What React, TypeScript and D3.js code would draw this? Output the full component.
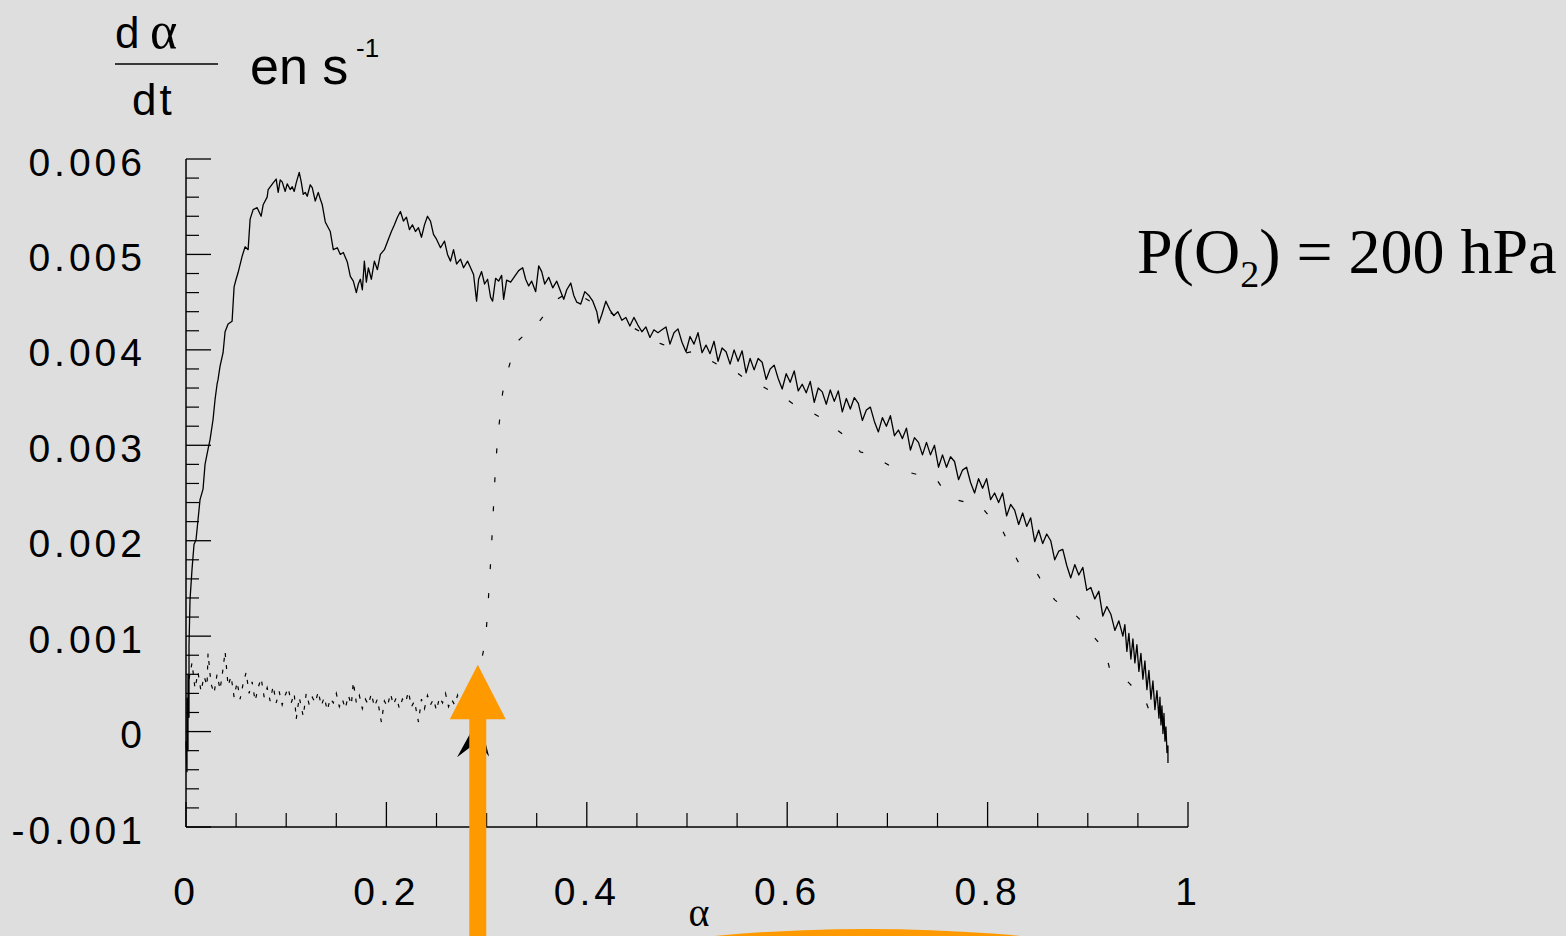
import React from "react";
import * as d3 from "d3";

const W = 1566;
const H = 936;

// x: conversion degree alpha ; y: d(alpha)/dt in units of 1e-3 s^-1
const xTickValues = [0, 0.2, 0.4, 0.6, 0.8, 1];
const xTickLabels = ["0", "0.2", "0.4", "0.6", "0.8", "1"];
const yTickValues = [-1, 0, 1, 2, 3, 4, 5, 6];
const yTickLabels = ["-0.001", "0", "0.001", "0.002", "0.003", "0.004", "0.005", "0.006"];

const solidCurve: [number, number][] = [
  [0.000,-0.10],[0.001,-0.42],[0.001,0.35],[0.002,-0.20],[0.002,0.60],[0.003,0.15],[0.003,0.90],[0.004,1.38],
  [0.006,1.70],[0.008,1.96],[0.010,2.01],[0.012,2.22],[0.014,2.43],[0.017,2.54],[0.019,2.80],[0.022,2.96],
  [0.024,3.06],[0.027,3.27],[0.029,3.48],[0.031,3.64],[0.032,3.69],[0.034,3.83],[0.037,3.97],[0.039,4.19],
  [0.042,4.27],[0.046,4.30],[0.048,4.66],[0.050,4.74],[0.052,4.81],[0.056,4.98],[0.059,5.08],[0.062,5.05],
  [0.064,5.37],[0.067,5.47],[0.071,5.49],[0.075,5.40],[0.077,5.52],[0.081,5.60],[0.082,5.68],[0.087,5.75],
  [0.090,5.79],[0.092,5.65],[0.094,5.78],[0.096,5.76],[0.099,5.66],[0.101,5.74],[0.104,5.68],[0.106,5.71],
  [0.108,5.66],[0.110,5.75],[0.113,5.86],[0.115,5.76],[0.117,5.63],[0.119,5.65],[0.121,5.61],[0.124,5.73],
  [0.126,5.70],[0.129,5.56],[0.132,5.65],[0.134,5.58],[0.136,5.52],[0.139,5.34],[0.142,5.28],[0.144,5.24],
  [0.147,5.05],[0.151,5.07],[0.154,5.00],[0.157,5.02],[0.161,4.92],[0.164,4.77],[0.167,4.72],[0.170,4.60],
  [0.172,4.69],[0.174,4.74],[0.176,4.63],[0.178,4.93],[0.180,4.71],[0.182,4.86],[0.185,4.74],[0.188,4.93],
  [0.191,4.84],[0.194,5.00],[0.198,5.05],[0.202,5.16],[0.205,5.24],[0.208,5.31],[0.211,5.39],[0.214,5.45],
  [0.217,5.35],[0.220,5.39],[0.223,5.26],[0.226,5.31],[0.229,5.24],[0.232,5.28],[0.235,5.18],[0.238,5.31],
  [0.241,5.40],[0.244,5.35],[0.247,5.21],[0.250,5.16],[0.254,5.07],[0.258,5.14],[0.261,5.00],[0.264,4.93],
  [0.267,5.05],[0.270,4.90],[0.274,4.95],[0.277,4.86],[0.281,4.93],[0.284,4.86],[0.287,4.79],[0.290,4.51],
  [0.292,4.74],[0.295,4.82],[0.298,4.69],[0.301,4.74],[0.304,4.55],[0.306,4.51],[0.309,4.75],[0.312,4.72],
  [0.315,4.78],[0.317,4.53],[0.320,4.73],[0.324,4.71],[0.328,4.77],[0.332,4.83],[0.336,4.86],[0.339,4.74],
  [0.342,4.67],[0.345,4.72],[0.349,4.61],[0.352,4.88],[0.355,4.82],[0.358,4.69],[0.362,4.76],[0.366,4.65],
  [0.370,4.72],[0.374,4.61],[0.377,4.53],[0.380,4.63],[0.384,4.70],[0.387,4.57],[0.390,4.50],[0.394,4.48],
  [0.398,4.61],[0.402,4.57],[0.406,4.51],[0.410,4.40],[0.412,4.28],[0.415,4.37],[0.419,4.51],[0.423,4.42],
  [0.427,4.36],[0.431,4.40],[0.435,4.31],[0.439,4.34],[0.443,4.25],[0.447,4.34],[0.451,4.26],[0.455,4.19],
  [0.459,4.24],[0.463,4.13],[0.467,4.21],[0.471,4.18],[0.475,4.21],
  [0.479,4.24],[0.483,4.06],[0.487,4.18],[0.491,4.22],[0.495,4.08],[0.499,3.98],[0.503,4.14],[0.507,4.06],
  [0.511,4.18],[0.515,3.97],[0.519,4.05],[0.523,3.96],[0.527,4.09],[0.531,3.88],[0.535,4.02],[0.539,3.98],
  [0.543,3.85],[0.547,4.00],[0.551,3.88],[0.555,3.99],[0.559,3.76],[0.563,3.91],[0.567,3.79],[0.571,3.91],
  [0.575,3.87],[0.579,3.69],[0.583,3.80],[0.587,3.84],[0.591,3.70],[0.595,3.59],[0.599,3.75],[0.603,3.66],
  [0.607,3.78],[0.611,3.57],[0.615,3.64],[0.619,3.55],[0.623,3.67],[0.627,3.45],[0.631,3.60],[0.635,3.56],
  [0.639,3.43],[0.643,3.58],[0.647,3.46],[0.651,3.57],[0.655,3.35],[0.659,3.49],[0.663,3.38],[0.667,3.50],
  [0.671,3.44],[0.675,3.26],[0.679,3.37],[0.683,3.40],[0.687,3.25],[0.691,3.14],[0.695,3.29],[0.699,3.20],
  [0.703,3.31],[0.707,3.10],[0.711,3.16],[0.715,3.07],[0.719,3.18],[0.723,2.95],[0.727,3.08],[0.731,3.03],
  [0.735,2.90],[0.739,3.03],[0.743,2.90],[0.747,3.00],[0.751,2.77],[0.755,2.90],[0.759,2.77],[0.763,2.88],
  [0.767,2.83],[0.771,2.64],[0.775,2.74],[0.779,2.77],[0.783,2.61],[0.787,2.50],[0.791,2.65],[0.795,2.55],
  [0.799,2.65],[0.803,2.43],[0.807,2.50],[0.811,2.40],[0.815,2.50],[0.819,2.26],[0.823,2.38],[0.827,2.32],
  [0.831,2.17],[0.835,2.29],[0.839,2.15],[0.843,2.24],[0.847,1.99],[0.851,2.11],[0.855,1.97],[0.859,2.07],
  [0.863,2.00],[0.867,1.80],[0.871,1.89],[0.875,1.91],[0.879,1.74],[0.883,1.61],[0.887,1.75],[0.891,1.64],
  [0.895,1.72],[0.899,1.48],[0.903,1.51],[0.907,1.39],[0.911,1.47],[0.915,1.21],[0.919,1.31],[0.923,1.23],
  [0.927,1.06],[0.931,1.16],[0.935,1.00],[0.937,1.12],[0.939,0.84],[0.941,1.03],[0.943,0.76],[0.945,0.97],
  [0.947,0.72],[0.949,0.91],[0.951,0.63],[0.953,0.82],[0.955,0.55],[0.957,0.74],[0.959,0.44],[0.961,0.64],
  [0.963,0.34],[0.965,0.53],[0.967,0.23],[0.969,0.43],[0.971,0.14],[0.972,0.36],[0.973,0.07],[0.974,0.27],
  [0.975,-0.02],[0.976,0.19],[0.977,-0.10],[0.978,0.05],[0.979,-0.22],[0.980,-0.15],[0.980,-0.33],
];

const dottedCurve: [number, number][] = [
  [0.003,0.55],[0.006,0.72],[0.009,0.45],[0.012,0.62],[0.015,0.42],[0.018,0.58],[0.021,0.48],[0.022,0.82],
  [0.025,0.50],[0.028,0.40],[0.031,0.60],[0.034,0.44],[0.037,0.66],[0.039,0.84],[0.042,0.48],[0.045,0.58],
  [0.048,0.36],[0.051,0.52],[0.054,0.34],[0.057,0.50],[0.060,0.62],[0.063,0.40],[0.066,0.52],[0.069,0.32],
  [0.072,0.46],[0.075,0.56],[0.078,0.36],[0.081,0.46],[0.084,0.32],[0.087,0.48],[0.090,0.30],[0.093,0.42],
  [0.096,0.28],[0.099,0.38],[0.102,0.46],[0.105,0.30],[0.108,0.40],[0.110,0.13],[0.113,0.36],[0.117,0.16],
  [0.120,0.40],[0.123,0.28],[0.126,0.36],[0.129,0.30],[0.132,0.42],[0.135,0.27],[0.138,0.36],[0.141,0.22],
  [0.144,0.35],[0.147,0.30],[0.150,0.40],[0.153,0.26],[0.156,0.34],[0.159,0.24],[0.162,0.38],[0.165,0.28],
  [0.167,0.52],[0.170,0.30],[0.173,0.38],[0.176,0.24],[0.179,0.34],[0.182,0.28],[0.185,0.40],[0.188,0.26],
  [0.191,0.34],[0.195,0.10],[0.198,0.32],[0.201,0.26],[0.204,0.40],[0.207,0.28],[0.210,0.36],[0.213,0.24],
  [0.216,0.34],[0.219,0.30],[0.222,0.42],[0.225,0.26],[0.228,0.32],[0.232,0.10],[0.235,0.34],[0.238,0.24],
  [0.241,0.38],[0.244,0.28],[0.247,0.34],[0.250,0.22],[0.253,0.36],[0.256,0.30],[0.259,0.40],[0.262,0.26],
  [0.265,0.34],[0.268,0.28],[0.271,0.38],[0.274,0.24],[0.277,0.34],[0.280,0.30],[0.283,0.42],[0.286,0.36],
  [0.289,0.50],[0.292,0.62],
  [0.295,0.75],[0.299,0.96],[0.301,1.26],[0.303,1.59],[0.305,1.96],[0.307,2.38],[0.309,2.80],[0.311,3.06],
  [0.313,3.27],[0.316,3.55],[0.320,3.74],[0.325,3.92],[0.331,4.09],[0.338,4.16],[0.346,4.21],[0.358,4.37],
  [0.366,4.50],[0.375,4.56],[0.385,4.58],[0.395,4.56],[0.405,4.50],[0.415,4.44],[0.425,4.38],[0.435,4.30],
  [0.445,4.24],[0.455,4.18],[0.465,4.10],[0.475,4.06],[0.485,4.02],[0.495,3.96],[0.505,3.98],[0.515,3.90],
  [0.525,3.88],[0.535,3.82],[0.545,3.80],[0.555,3.72],[0.565,3.68],[0.575,3.62],[0.585,3.56],[0.595,3.52],
  [0.605,3.44],[0.615,3.40],[0.625,3.34],[0.635,3.28],[0.645,3.20],[0.655,3.12],[0.665,3.04],[0.673,2.93],
  [0.685,2.90],[0.697,2.82],[0.708,2.75],[0.720,2.72],[0.735,2.68],[0.748,2.66],[0.758,2.50],[0.768,2.43],
  [0.780,2.40],[0.792,2.38],[0.802,2.25],[0.812,2.17],[0.822,1.95],[0.832,1.75],[0.840,1.72],[0.847,1.70],
  [0.857,1.52],[0.867,1.38],[0.877,1.30],[0.887,1.23],[0.897,1.12],[0.907,0.98],[0.917,0.86],[0.922,0.65],
  [0.929,0.62],[0.937,0.55],[0.942,0.50],[0.947,0.44],[0.952,0.40],[0.957,0.34],[0.962,0.20],
];

const SANS = "'Liberation Sans', Arial, Helvetica, sans-serif";
const SERIF = "'Liberation Serif', 'Times New Roman', Times, serif";
const ORANGE = "#ff9900";

export default function App() {
  const x = d3.scaleLinear().domain([0, 1]).range([186, 1188]);
  const y = d3.scaleLinear().domain([-1, 6]).range([827, 159]);
  const line = d3.line<[number, number]>().x((d) => x(d[0])).y((d) => y(d[1]));

  const xMinor = d3.range(0, 20).map((i) => i * 0.05).filter((v, i) => i % 4 !== 0);
  const yMinor = d3.range(0, 36).map((i) => -1 + i * 0.2).filter((v, i) => i % 5 !== 0);

  const dotFlat = dottedCurve.filter((d) => d[0] <= 0.293);
  const dotRest = dottedCurve.filter((d) => d[0] >= 0.289);

  // annotation anchors in data coordinates
  const arrowX = x(0.2912);
  const tipY = y(0.7);
  const baseY = y(0.13);
  const headHalf = 28;
  const shaftHalf = 8.5;

  const blackArrow = [
    [x(0.2925), y(0.15)],
    [x(0.2705), y(-0.27)],
    [x(0.2905), y(-0.11)],
    [x(0.3025), y(-0.26)],
  ];

  const crescentCx = x(0.68);

  return (
    <div style={{ position: "fixed", left: 0, top: 0, width: W, height: H, background: "#dedede", overflow: "hidden" }}>
      <svg width={W} height={H} style={{ display: "block" }}>
        <rect x={0} y={0} width={W} height={H} fill="#dedede" />

        {/* axes */}
        <line x1={x(0)} x2={x(0)} y1={y(6)} y2={y(-1)} stroke="#000" strokeWidth={1.5} />
        <line x1={x(0)} x2={x(1)} y1={y(-1)} y2={y(-1)} stroke="#000" strokeWidth={1.5} />

        {yTickValues.map((v) => (
          <line key={"ym" + v} x1={x(0)} x2={x(0) + 25} y1={y(v)} y2={y(v)} stroke="#000" strokeWidth={1.3} />
        ))}
        {yMinor.map((v, i) => (
          <line key={"yn" + i} x1={x(0)} x2={x(0) + 13} y1={y(v)} y2={y(v)} stroke="#000" strokeWidth={1.2} />
        ))}
        {xTickValues.map((v) => (
          <line key={"xm" + v} x1={x(v)} x2={x(v)} y1={y(-1)} y2={y(-1) - 25} stroke="#000" strokeWidth={1.3} />
        ))}
        {xMinor.map((v, i) => (
          <line key={"xn" + i} x1={x(v)} x2={x(v)} y1={y(-1)} y2={y(-1) - 14} stroke="#000" strokeWidth={1.2} />
        ))}

        {yTickValues.map((v, i) => (
          <text key={"yl" + v} x={146} y={y(v) + 3} dominantBaseline="central" textAnchor="end"
            fontFamily={SANS} fontSize={39} letterSpacing={4} fill="#000">
            {yTickLabels[i]}
          </text>
        ))}
        {xTickValues.map((v, i) => (
          <text key={"xl" + v} x={x(v)} y={905} textAnchor="middle"
            fontFamily={SANS} fontSize={39} letterSpacing={4} fill="#000">
            {xTickLabels[i]}
          </text>
        ))}

        {/* data */}
        <path d={line(dotFlat) || ""} fill="none" stroke="#000" strokeWidth={1.2} strokeDasharray="4 8" />
        <path d={line(dotRest) || ""} fill="none" stroke="#000" strokeWidth={1.2} strokeDasharray="5 24" />
        <path d={line(solidCurve) || ""} fill="none" stroke="#000" strokeWidth={1.3} strokeLinejoin="round" />

        {/* y title */}
        <text x={115} y={48} fontFamily={SANS} fontSize={44} fill="#000">d</text>
        <text x={150} y={48} fontFamily={SERIF} fontSize={52} fill="#000">α</text>
        <line x1={115} x2={218} y1={64} y2={64} stroke="#000" strokeWidth={1.5} />
        <text x={132} y={115} fontFamily={SANS} fontSize={44} letterSpacing={3} fill="#000">dt</text>
        <text x={250} y={84} fontFamily={SANS} fontSize={52} fill="#000">en s</text>
        <text x={356} y={57} fontFamily={SANS} fontSize={26} fill="#000">-1</text>

        {/* condition label */}
        <text x={1137} y={273} fontFamily={SERIF} fontSize={64} fill="#000">
          P(O<tspan fontSize={38} dy={14}>2</tspan><tspan dy={-14}>) = 200 hPa</tspan>
        </text>

        {/* x title */}
        <text x={699} y={926} textAnchor="middle" fontFamily={SERIF} fontSize={40} fill="#000">α</text>

        {/* annotations */}
        <polygon points={blackArrow.map((p) => p.join(",")).join(" ")} fill="#000" />
        <rect x={arrowX - shaftHalf} y={baseY - 1} width={shaftHalf * 2} height={H - baseY + 1} fill={ORANGE} />
        <polygon
          points={`${arrowX},${tipY} ${arrowX - headHalf},${baseY} ${arrowX + headHalf},${baseY}`}
          fill={ORANGE}
        />
        <ellipse cx={crescentCx} cy={989} rx={326} ry={60} fill={ORANGE} />
      </svg>
    </div>
  );
}
